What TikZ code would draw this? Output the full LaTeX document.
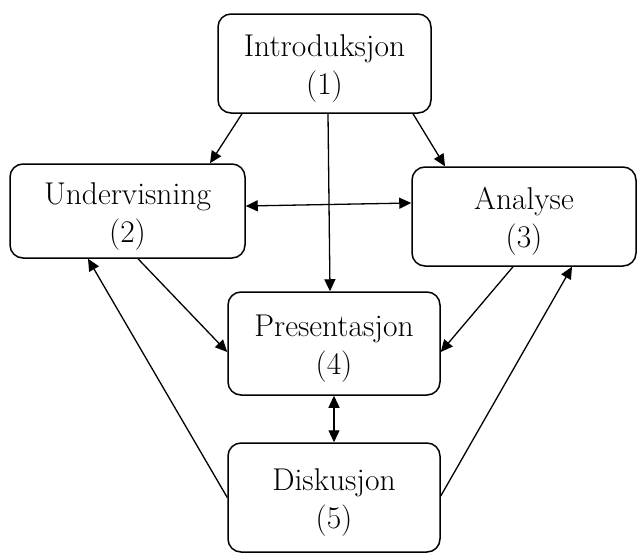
\documentclass[tikz,border=0pt]{standalone}
\usetikzlibrary{arrows.meta}
\newcommand\mytopstrut{\rule{0pt}{32pt}}
\begin{document}
\begin{tikzpicture}[x=1pt,y=-1pt,
  box/.style={draw, line width=1.5pt, rounded corners=13pt, align=center,
    inner sep=0pt, font=\fontsize{31.5}{38}\selectfont},
  conn/.style={line width=1.3pt, -{Triangle[length=12pt,width=11pt]}},
  bicon/.style={line width=1.3pt, {Triangle[length=12pt,width=11pt]}-{Triangle[length=12pt,width=11pt]}}]
\useasboundingbox (0,0) rectangle (637,554);
\node[box, minimum width=213pt, minimum height=99pt] (n1) at (324.5,63.5) {\mytopstrut Introduksjon\\(1)};
\node[box, minimum width=235pt, minimum height=94pt] (n2) at (127.5,211) {\mytopstrut Undervisning\\(2)};
\node[box, minimum width=224pt, minimum height=99pt] (n3) at (524,216.5) {\mytopstrut Analyse\\(3)};
\node[box, minimum width=212pt, minimum height=103pt] (n4) at (334,343.5) {\mytopstrut Presentasjon\\(4)};
\node[box, minimum width=212pt, minimum height=109pt] (n5) at (334,497.5) {\mytopstrut Diskusjon\\(5)};
\draw[conn] ([xshift=-82.5pt]n1.south) -- ([xshift=82.5pt]n2.north);
\draw[conn] ([xshift=3.5pt]n1.south) -- ([xshift=-4pt]n4.north);
\draw[conn] ([xshift=88.5pt]n1.south) -- ([xshift=-79pt]n3.north);
\draw[bicon] ([yshift=5pt]n2.east) -- ([yshift=13.5pt]n3.west);
\draw[conn] ([xshift=10.5pt]n2.south) -- ([yshift=-8.5pt]n4.west);
\draw[conn] ([xshift=-11pt]n3.south) -- ([yshift=-8.5pt]n4.east);
\draw[conn] (n5.west) -- ([xshift=-39.5pt]n2.south);
\draw[conn] ([yshift=1.5pt]n5.east) -- ([xshift=48pt]n3.south);
\draw[bicon] (n4.south) -- (n5.north);
\end{tikzpicture}
\end{document}
